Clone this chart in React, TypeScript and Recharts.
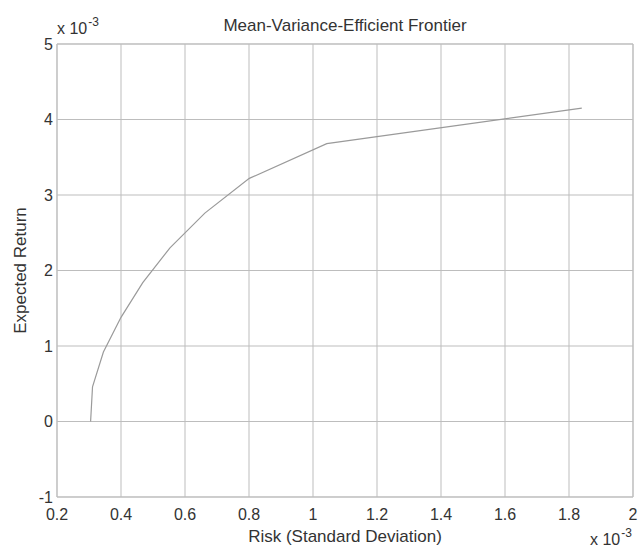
import React from "react";
import {
  LineChart,
  Line,
  XAxis,
  YAxis,
  CartesianGrid,
  ReferenceLine,
} from "recharts";

// values are in units of 1e-3 (axis multiplier shown as "x 10^-3")
const risk = [0.305, 0.311, 0.345, 0.4, 0.468, 0.553, 0.662, 0.801, 1.043, 1.84];
const expectedReturn = [0, 0.46, 0.92, 1.38, 1.84, 2.3, 2.76, 3.22, 3.68, 4.15];

const xTicks = [0.2, 0.4, 0.6, 0.8, 1, 1.2, 1.4, 1.6, 1.8, 2];
const yTicks = [-1, 0, 1, 2, 3, 4, 5];

const frontier = risk.map((r, i) => ({ risk: r, ret: expectedReturn[i] }));

const font = "'Liberation Sans', Arial, sans-serif";
const textColor = "#333";
const gridColor = "#bdbdbd";

// "x 10^-3" axis multiplier; left/baseline give the position of "x 10"
const Multiplier = ({ left, baseline }: { left: number; baseline: number }) => (
  <div
    style={{
      position: "absolute",
      left,
      top: baseline - 15,
      fontFamily: font,
      color: textColor,
      whiteSpace: "nowrap",
      lineHeight: 1,
    }}
  >
    <span style={{ fontSize: 16 }}>x 10</span>
    <span
      style={{
        fontSize: 12,
        position: "relative",
        top: -8,
        marginLeft: 1,
      }}
    >
      -3
    </span>
  </div>
);

export default function App() {
  return (
    <div
      style={{
        position: "fixed",
        left: 0,
        top: 0,
        width: 641,
        height: 552,
        background: "#fff",
      }}
    >
      <LineChart
        width={641}
        height={552}
        data={frontier}
        margin={{ top: 44, right: 8, bottom: 0, left: 0 }}
      >
        <CartesianGrid stroke={gridColor} strokeWidth={1} />
        <XAxis
          dataKey="risk"
          type="number"
          domain={[0.2, 2]}
          ticks={xTicks}
          tickFormatter={(v: number) => String(v)}
          height={55}
          tickLine={false}
          tickSize={0}
          tickMargin={12}
          axisLine={{ stroke: gridColor }}
          tick={{ fontSize: 16, fill: textColor, fontFamily: font }}
          label={{
            value: "Risk (Standard Deviation)",
            position: "insideBottom",
            offset: 10,
            style: { fontSize: 17, fill: textColor, fontFamily: font },
          }}
        />
        <YAxis
          dataKey="ret"
          type="number"
          domain={[-1, 5]}
          ticks={yTicks}
          width={57}
          tickLine={false}
          tickSize={0}
          tickMargin={4}
          axisLine={{ stroke: gridColor }}
          tick={{ fontSize: 16, fill: textColor, fontFamily: font }}
          label={{
            value: "Expected Return",
            angle: -90,
            position: "insideLeft",
            offset: 20,
            style: {
              fontSize: 17,
              fill: textColor,
              fontFamily: font,
              textAnchor: "middle",
            },
          }}
        />
        <ReferenceLine y={5} stroke={gridColor} />
        <ReferenceLine x={2} stroke={gridColor} />
        <Line
          type="linear"
          dataKey="ret"
          stroke="#9a9a9a"
          strokeWidth={1.2}
          dot={false}
          isAnimationActive={false}
        />
      </LineChart>
      <div
        style={{
          position: "absolute",
          left: 57,
          width: 576,
          top: 16,
          textAlign: "center",
          fontFamily: font,
          fontSize: 17,
          lineHeight: "20px",
          color: textColor,
        }}
      >
        Mean-Variance-Efficient Frontier
      </div>
      <Multiplier left={57} baseline={36} />
      <Multiplier left={590} baseline={547} />
    </div>
  );
}
